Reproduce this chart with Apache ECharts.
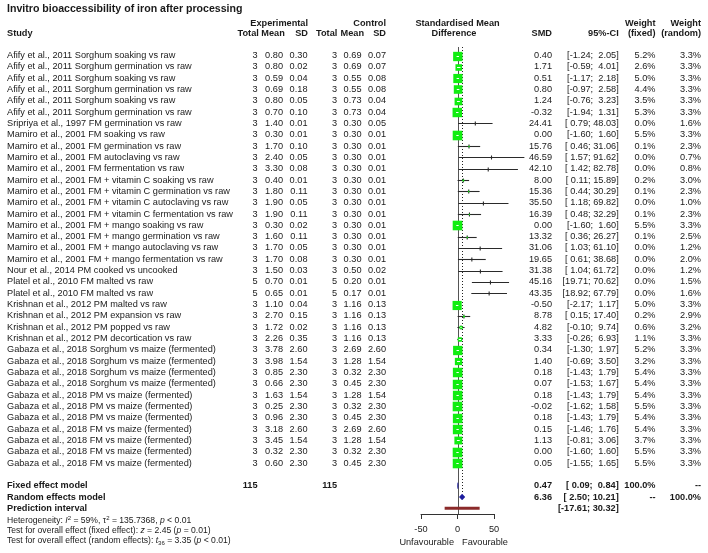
<!DOCTYPE html>
<html><head><meta charset="utf-8">
<script src="https://cdn.jsdelivr.net/npm/echarts@6/dist/echarts.min.js"></script>
<style>html,body{margin:0;padding:0;background:#fff}#c{width:708px;height:553px}</style>
</head><body><div id="c"></div>
<script>
const studies = [
 'Afify et al., 2011 Sorghum soaking vs raw',
 'Afify et al., 2011 Sorghum germination vs raw',
 'Afify et al., 2011 Sorghum soaking vs raw',
 'Afify et al., 2011 Sorghum germination vs raw',
 'Afify et al., 2011 Sorghum soaking vs raw',
 'Afify et al., 2011 Sorghum germination vs raw',
 'Sripriya et al., 1997 FM germination vs raw',
 'Mamiro et al., 2001 FM soaking vs raw',
 'Mamiro et al., 2001 FM germination vs raw',
 'Mamiro et al., 2001 FM autoclaving vs raw',
 'Mamiro et al., 2001 FM fermentation vs raw',
 'Mamiro et al., 2001 FM + vitamin C soaking vs raw',
 'Mamiro et al., 2001 FM + vitamin C germination vs raw',
 'Mamiro et al., 2001 FM + vitamin C autoclaving vs raw',
 'Mamiro et al., 2001 FM + vitamin C fermentation vs raw',
 'Mamiro et al., 2001 FM + mango soaking vs raw',
 'Mamiro et al., 2001 FM + mango germination vs raw',
 'Mamiro et al., 2001 FM + mango autoclaving vs raw',
 'Mamiro et al., 2001 FM + mango fermentation vs raw',
 'Nour et al., 2014 PM cooked vs uncooked',
 'Platel et al., 2010 FM malted vs raw',
 'Platel et al., 2010 FM malted vs raw',
 'Krishnan et al., 2012 PM malted vs raw',
 'Krishnan et al., 2012 PM expansion vs raw',
 'Krishnan et al., 2012 PM popped vs raw',
 'Krishnan et al., 2012 PM decortication vs raw',
 'Gabaza et al., 2018 Sorghum vs maize (fermented)',
 'Gabaza et al., 2018 Sorghum vs maize (fermented)',
 'Gabaza et al., 2018 Sorghum vs maize (fermented)',
 'Gabaza et al., 2018 Sorghum vs maize (fermented)',
 'Gabaza et al., 2018 PM vs maize (fermented)',
 'Gabaza et al., 2018 PM vs maize (fermented)',
 'Gabaza et al., 2018 PM vs maize (fermented)',
 'Gabaza et al., 2018 FM vs maize (fermented)',
 'Gabaza et al., 2018 FM vs maize (fermented)',
 'Gabaza et al., 2018 FM vs maize (fermented)',
 'Gabaza et al., 2018 FM vs maize (fermented)'
];
const expTotal = [3,3,3,3,3,3,3,3,3,3,3,3,3,3,3,3,3,3,3,3,5,5,3,3,3,3,3,3,3,3,3,3,3,3,3,3,3];
const expMean = [0.80,0.80,0.59,0.69,0.80,0.70,1.40,0.30,1.70,2.40,3.30,0.40,1.80,1.90,1.90,0.30,1.60,1.70,1.70,1.50,0.70,0.65,1.10,2.70,1.72,2.26,3.78,3.98,0.85,0.66,1.63,0.25,0.96,3.18,3.45,0.32,0.60];
const expSD = [0.30,0.02,0.04,0.18,0.05,0.10,0.01,0.01,0.10,0.05,0.08,0.01,0.11,0.05,0.11,0.02,0.11,0.05,0.08,0.03,0.01,0.01,0.04,0.15,0.02,0.35,2.60,1.54,2.30,2.30,1.54,2.30,2.30,2.60,1.54,2.30,2.30];
const ctrlTotal = [3,3,3,3,3,3,3,3,3,3,3,3,3,3,3,3,3,3,3,3,5,5,3,3,3,3,3,3,3,3,3,3,3,3,3,3,3];
const ctrlMean = [0.69,0.69,0.55,0.55,0.73,0.73,0.30,0.30,0.30,0.30,0.30,0.30,0.30,0.30,0.30,0.30,0.30,0.30,0.30,0.50,0.20,0.17,1.16,1.16,1.16,1.16,2.69,1.28,0.32,0.45,1.28,0.32,0.45,2.69,1.28,0.32,0.45];
const ctrlSD = [0.07,0.07,0.08,0.08,0.04,0.04,0.05,0.01,0.01,0.01,0.01,0.01,0.01,0.01,0.01,0.01,0.01,0.01,0.01,0.02,0.01,0.01,0.13,0.13,0.13,0.13,2.60,1.54,2.30,2.30,1.54,2.30,2.30,2.60,1.54,2.30,2.30];
const smd = [0.40,1.71,0.51,0.80,1.24,-0.32,24.41,0.00,15.76,46.59,42.10,8.00,15.36,35.50,16.39,0.00,13.32,31.06,19.65,31.38,45.16,43.35,-0.50,8.78,4.82,3.33,0.34,1.40,0.18,0.07,0.18,-0.02,0.18,0.15,1.13,0.00,0.05];
const ciLower = [-1.24,-0.59,-1.17,-0.97,-0.76,-1.94,0.79,-1.60,0.46,1.57,1.42,0.11,0.44,1.18,0.48,-1.60,0.36,1.03,0.61,1.04,19.71,18.92,-2.17,0.15,-0.10,-0.26,-1.30,-0.69,-1.43,-1.53,-1.43,-1.62,-1.43,-1.46,-0.81,-1.60,-1.55];
const ciUpper = [2.05,4.01,2.18,2.58,3.23,1.31,48.03,1.60,31.06,91.62,82.78,15.89,30.29,69.82,32.29,1.60,26.27,61.10,38.68,61.72,70.62,67.79,1.17,17.40,9.74,6.93,1.97,3.50,1.79,1.67,1.79,1.58,1.79,1.76,3.06,1.60,1.65];
const weightFixed = [5.2,2.6,5.0,4.4,3.5,5.3,0.0,5.5,0.1,0.0,0.0,0.2,0.1,0.0,0.1,5.5,0.1,0.0,0.0,0.0,0.0,0.0,5.0,0.2,0.6,1.1,5.2,3.2,5.4,5.4,5.4,5.5,5.4,5.4,3.7,5.5,5.5];
const weightRandom = [3.3,3.3,3.3,3.3,3.3,3.3,1.6,3.3,2.3,0.7,0.8,3.0,2.3,1.0,2.3,3.3,2.5,1.2,2.0,1.2,1.5,1.6,3.3,2.9,3.2,3.3,3.3,3.3,3.3,3.3,3.3,3.3,3.3,3.3,3.3,3.3,3.3];
const summaryLabels = ['Fixed effect model', 'Random effects model', 'Prediction interval'];
const summaryTotals = [115, 115];
const fixedEffect = [0.47, 0.09, 0.84];
const randomEffect = [6.36, 2.50, 10.21];
const predictionInterval = [-17.61, 30.32];
const xTicks = [-50, 0, 50];

const FONT = '"Liberation Sans", Arial, sans-serif';
const FS = 9.2;
const TXT = '#1a1a1a';
const COL = {eT: 257.5, eM: 283, eS: 307.5, cT: 337, cM: 361.5, cS: 386, smd: 552, ci: 618.7, wf: 655.5, wr: 701};
const f2 = v => v.toFixed(2);
const ci = (lo, hi, w) => '[' + f2(lo).padStart(w, ' ') + '; ' + f2(hi).padStart(w, ' ') + ']';
const pct = v => v.toFixed(1) + '%';

function txt(text, x, y, align, bold, size) {
  return {type: 'text', style: {text: String(text), x: x, y: y, fill: TXT,
    font: (bold ? 'bold ' : '') + (size || FS) + 'px ' + FONT,
    align: align || 'left', verticalAlign: 'middle', textAlign: align || 'left', textVerticalAlign: 'middle'}};
}

// rows: studies 0..36, summary at 38,39,40
const tableData = studies.map((s, i) => [0, i, i]);
summaryLabels.forEach((s, k) => tableData.push([0, 38 + k, 100 + k]));

function renderTable(params, api) {
  const row = api.value(1), id = api.value(2);
  const y = api.coord([0, row])[1];
  const c = [];
  if (id < 100) {
    const i = id;
    c.push(txt(studies[i], 7, y));
    c.push(txt(expTotal[i], COL.eT, y, 'right'));
    c.push(txt(f2(expMean[i]), COL.eM, y, 'right'));
    c.push(txt(f2(expSD[i]), COL.eS, y, 'right'));
    c.push(txt(ctrlTotal[i], COL.cT, y, 'right'));
    c.push(txt(f2(ctrlMean[i]), COL.cM, y, 'right'));
    c.push(txt(f2(ctrlSD[i]), COL.cS, y, 'right'));
    c.push(txt(f2(smd[i]), COL.smd, y, 'right'));
    c.push(txt(ci(ciLower[i], ciUpper[i], 5), COL.ci, y, 'right'));
    c.push(txt(pct(weightFixed[i]), COL.wf, y, 'right'));
    c.push(txt(pct(weightRandom[i]), COL.wr, y, 'right'));
  } else {
    const k = id - 100;
    c.push(txt(summaryLabels[k], 7, y, 'left', true));
    if (k === 0) {
      c.push(txt(summaryTotals[0], COL.eT, y, 'right', true));
      c.push(txt(summaryTotals[1], COL.cT, y, 'right', true));
      c.push(txt(f2(fixedEffect[0]), COL.smd, y, 'right', true));
      c.push(txt(ci(fixedEffect[1], fixedEffect[2], 5), COL.ci, y, 'right', true));
      c.push(txt('100.0%', COL.wf, y, 'right', true));
      c.push(txt('--', COL.wr, y, 'right', true));
    } else if (k === 1) {
      c.push(txt(f2(randomEffect[0]), COL.smd, y, 'right', true));
      c.push(txt(ci(randomEffect[1], randomEffect[2], 5), COL.ci, y, 'right', true));
      c.push(txt('--', COL.wf, y, 'right', true));
      c.push(txt('100.0%', COL.wr, y, 'right', true));
    } else {
      c.push(txt(ci(predictionInterval[0], predictionInterval[1], 5), COL.ci, y, 'right', true));
    }
  }
  return {type: 'group', children: c};
}

const SQ = 9.6 / Math.sqrt(5.5);
function renderStudy(params, api) {
  const est = api.value(0), lo = api.value(1), hi = api.value(2), row = api.value(3), w = api.value(4);
  const pE = api.coord([est, row]), pL = api.coord([lo, row]), pH = api.coord([hi, row]);
  const y = Math.round(pE[1]) + 0.5;
  const side = SQ * Math.sqrt(w);
  const ch = [
    {type: 'line', shape: {x1: pL[0], y1: y, x2: pH[0], y2: y}, style: {stroke: '#2a2a2a', lineWidth: 1.1}},
    {type: 'line', shape: {x1: pE[0], y1: y - 2, x2: pE[0], y2: y + 2}, style: {stroke: '#2a2a2a', lineWidth: 1.1}}
  ];
  if (side > 0.8) {
    ch.push({type: 'rect', shape: {x: pE[0] - side / 2, y: y - side / 2, width: side, height: side}, style: {fill: '#11ee11'}});
    const a = Math.max(pL[0], pE[0] - side / 2 + 1), b = Math.min(pH[0], pE[0] + side / 2 - 1);
    if (b > a) ch.push({type: 'line', shape: {x1: a, y1: y, x2: b, y2: y}, style: {stroke: '#ffffff', lineWidth: 1}});
  }
  return {type: 'group', children: ch};
}

function renderSummary(params, api) {
  const est = api.value(0), lo = api.value(1), hi = api.value(2), row = api.value(3), kind = api.value(4);
  const pE = api.coord([est, row]), pL = api.coord([lo, row]), pH = api.coord([hi, row]);
  const y = pE[1];
  if (kind === 1) {
    return {type: 'rect', shape: {x: pL[0], y: y - 1.5, width: pH[0] - pL[0], height: 3}, style: {fill: '#8b2a2a'}};
  }
  return {type: 'polygon', shape: {points: [[pL[0], y], [pE[0], y - 3], [pH[0], y], [pE[0], y + 3]]}, style: {fill: '#1c1c9c', stroke: '#1c1c9c', lineWidth: 0.5}};
}

function renderRefLine(params, api) {
  const x = api.value(0), r0 = api.value(1), r1 = api.value(2), kind = api.value(3);
  const p0 = api.coord([x, r0]), p1 = api.coord([x, r1]);
  const xx = Math.round(p0[0]) + 0.5;
  return {type: 'line', shape: {x1: xx, y1: p0[1], x2: xx, y2: p1[1]},
    style: kind === 0 ? {stroke: '#555', lineWidth: 1} : {stroke: '#222', lineWidth: 1, lineDash: [1, 2]}};
}

const chart = echarts.init(document.getElementById('c'), null, {renderer: 'canvas'});
const hdr = (t, x, y, a) => txt(t, x, y, a, true);
chart.setOption({
  animation: false,
  backgroundColor: '#fff',
  grid: {left: 421, right: 214, top: 4.56, bottom: 39},
  xAxis: {type: 'value', min: xTicks[0], max: xTicks[xTicks.length - 1], interval: 50,
    axisLine: {onZero: false, lineStyle: {color: '#333', width: 1}},
    axisTick: {length: 5, lineStyle: {color: '#333'}},
    axisLabel: {fontSize: FS, fontFamily: FONT, color: TXT, margin: 11, showMinLabel: true, showMaxLabel: true},
    splitLine: {show: false}},
  yAxis: {type: 'value', min: -4.5, max: 40.5, inverse: true, show: false, splitLine: {show: false}},
  series: [
    {type: 'custom', renderItem: renderRefLine, silent: true, z: 1,
      data: [[0, -0.75, 40.5, 0], [randomEffect[0], -0.75, 38.6, 1]]},
    {type: 'custom', renderItem: renderStudy, silent: true, z: 2,
      data: studies.map((s, i) => [smd[i], ciLower[i], ciUpper[i], i, weightFixed[i]])},
    {type: 'custom', renderItem: renderSummary, silent: true, z: 3,
      data: [[fixedEffect[0], fixedEffect[1], fixedEffect[2], 38, 0],
             [randomEffect[0], randomEffect[1], randomEffect[2], 39, 0],
             [(predictionInterval[0] + predictionInterval[1]) / 2, predictionInterval[0], predictionInterval[1], 40, 1]]},
    {type: 'custom', renderItem: renderTable, silent: true, z: 4, data: tableData}
  ],
  graphic: [
    txt('Invitro bioaccessibility of iron after processing', 7, 9.5, 'left', true, 10.6),
    hdr('Experimental', 308, 23.3, 'right'),
    hdr('Control', 386, 23.3, 'right'),
    hdr('Standardised Mean', 457.5, 23.3, 'center'),
    hdr('Weight', 655.5, 23.3, 'right'),
    hdr('Weight', 701, 23.3, 'right'),
    hdr('Study', 7, 33.5, 'left'),
    hdr('Total', 258.8, 33.5, 'right'),
    hdr('Mean', 284.8, 33.5, 'right'),
    hdr('SD', 308, 33.5, 'right'),
    hdr('Total', 337.3, 33.5, 'right'),
    hdr('Mean', 364, 33.5, 'right'),
    hdr('SD', 386, 33.5, 'right'),
    hdr('Difference', 454, 33.5, 'center'),
    hdr('SMD', 552, 33.5, 'right'),
    hdr('95%-CI', 618.7, 33.5, 'right'),
    hdr('(fixed)', 655.5, 33.5, 'right'),
    hdr('(random)', 701, 33.5, 'right'),
    txt('Unfavourable', 426.7, 542, 'center'),
    txt('Favourable', 485, 542, 'center'),
    (function () {
      const base = {fontSize: 8.6, fontFamily: FONT, fill: TXT};
      const rich = {
        n: Object.assign({}, base),
        i: Object.assign({fontStyle: 'italic'}, base),
        sup: {fontSize: 6, fontFamily: FONT, fill: TXT, verticalAlign: 'top'},
        isub: {fontSize: 6, fontFamily: FONT, fill: TXT, verticalAlign: 'bottom'}
      };
      const mk = (t, y) => ({type: 'text', style: {text: t, x: 7, y: y, fill: TXT, fontSize: 8.6, fontFamily: FONT,
        rich: rich, lineHeight: 11, align: 'left', verticalAlign: 'middle', textAlign: 'left', textVerticalAlign: 'middle'}});
      return {type: 'group', children: [
        mk('{n|Heterogeneity: }{i|I}{sup|2}{n| = 59%, τ}{sup|2}{n| = 135.7368, }{i|p}{n| < 0.01}', 520.7),
        mk('{n|Test for overall effect (fixed effect): }{i|z}{n| = 2.45 (}{i|p}{n| = 0.01)}', 530.5),
        mk('{n|Test for overall effect (random effects): }{i|t}{isub|36}{n| = 3.35 (}{i|p}{n| < 0.01)}', 541)
      ]};
    })()
  ]
});
</script></body></html>
